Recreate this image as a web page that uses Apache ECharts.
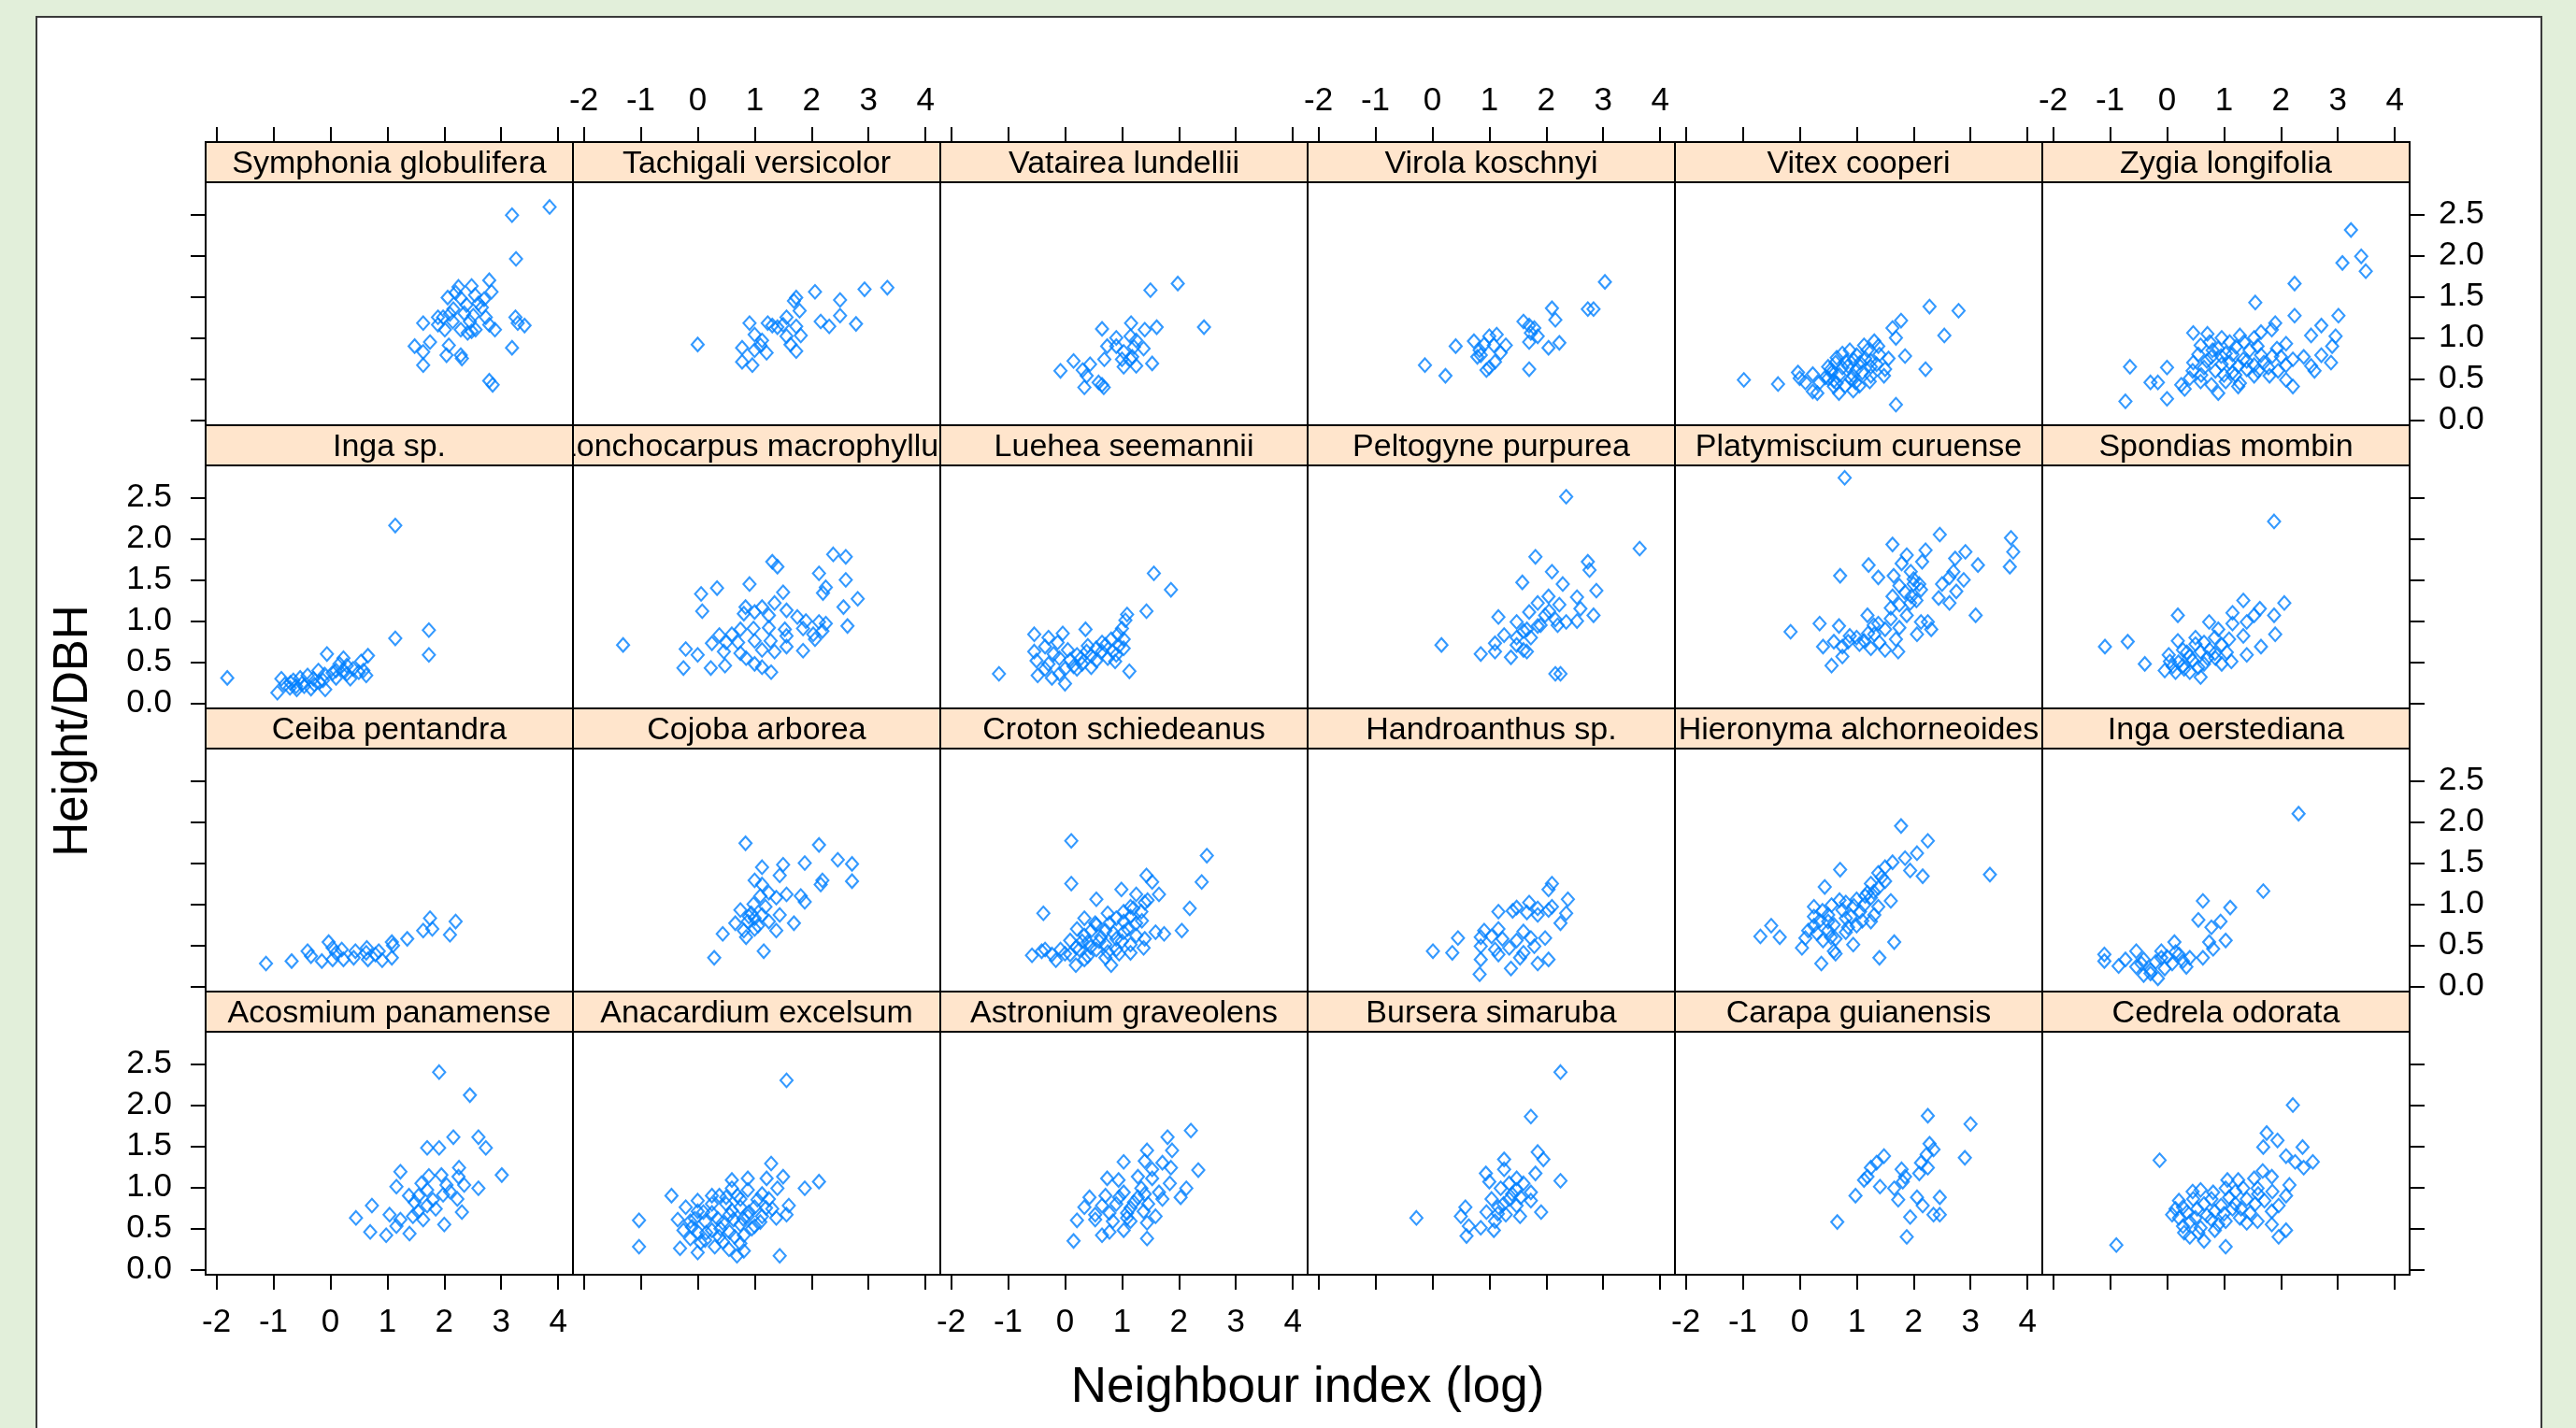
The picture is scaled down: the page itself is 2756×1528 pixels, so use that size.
<!DOCTYPE html>
<html><head><meta charset="utf-8">
<script src="https://cdn.jsdelivr.net/npm/echarts/dist/echarts.min.js"></script>
<style>html,body{margin:0;padding:0;background:#E2EFDA;}#chart{width:2756px;height:1528px;}</style>
</head><body><div id="chart"></div>
<script>
// ---------- tick labels ----------
const xTicks = [-2, -1, 0, 1, 2, 3, 4];
const yTicks = [0, 0.5, 1, 1.5, 2, 2.5];
const xTitle = 'Neighbour index (log)';
const yTitle = 'Height/DBH';

// ---------- panel names (lattice order: bottom-left first) ----------
const species = [
  'Acosmium panamense','Anacardium excelsum','Astronium graveolens','Bursera simaruba','Carapa guianensis','Cedrela odorata',
  'Ceiba pentandra','Cojoba arborea','Croton schiedeanus','Handroanthus sp.','Hieronyma alchorneoides','Inga oerstediana',
  'Inga sp.','Lonchocarpus macrophyllus','Luehea seemannii','Peltogyne purpurea','Platymiscium curuense','Spondias mombin',
  'Symphonia globulifera','Tachigali versicolor','Vatairea lundellii','Virola koschnyi','Vitex cooperi','Zygia longifolia'
];

// ---------- data: [neighbour index (log), height/DBH] ----------
const acosmium = [[1.91,2.40],[2.45,2.12],[2.16,1.61],[2.60,1.61],[2.73,1.48],[1.70,1.48],[1.91,1.48],[3.01,1.15],[1.23,1.19],[2.26,1.24],[1.73,1.14],[2.25,1.13],[2.04,1.03],[2.35,1.03],[2.60,0.99],[1.16,1.01],[1.38,0.90],[1.70,0.97],[1.98,0.91],[2.23,0.86],[1.48,0.82],[1.70,0.78],[1.54,0.71],[0.73,0.78],[1.04,0.67],[1.23,0.61],[0.45,0.63],[1.85,0.74],[2.31,0.70],[2.00,0.55],[1.16,0.53],[0.70,0.46],[0.98,0.42],[1.39,0.44],[1.63,0.61],[1.55,0.90],[1.80,0.85],[2.10,0.95],[1.60,1.05],[1.95,1.15],[1.45,0.65]];
const anacardium = [[1.56,2.30],[1.29,1.29],[2.13,1.07],[1.88,0.99],[1.50,1.13],[0.88,1.11],[0.60,1.09],[1.21,1.11],[1.40,0.99],[-0.46,0.90],[0.60,0.99],[0.88,0.97],[1.13,0.92],[0.38,0.90],[0.75,0.86],[1.25,0.86],[1.60,0.78],[0.00,0.84],[0.25,0.80],[0.50,0.80],[0.75,0.76],[1.00,0.76],[1.31,0.74],[1.56,0.67],[-0.21,0.76],[0.00,0.71],[0.25,0.69],[0.56,0.67],[0.88,0.65],[1.13,0.65],[1.38,0.63],[-1.03,0.60],[-0.35,0.61],[-0.13,0.59],[0.13,0.59],[0.44,0.57],[0.75,0.55],[1.00,0.53],[-0.25,0.48],[0.00,0.46],[0.25,0.48],[0.56,0.46],[0.81,0.42],[-0.13,0.38],[0.13,0.36],[0.44,0.34],[0.75,0.32],[-0.31,0.26],[0.00,0.21],[-1.03,0.28],[0.69,0.17],[0.81,0.23],[1.44,0.17],[0.38,0.40],[0.63,0.61],[0.10,0.70],[0.35,0.62],[0.60,0.72],[0.90,0.70],[1.05,0.85],[-0.10,0.52],[0.15,0.45],[0.40,0.50],[0.65,0.40],[0.95,0.50],[0.25,0.90],[0.50,0.88],[0.80,0.62],[1.20,0.75],[-0.05,0.62],[0.30,0.28],[0.55,0.25],[1.10,0.58],[0.70,0.90],[0.05,0.33]];
const astronium = [[2.21,1.69],[1.80,1.61],[2.34,1.21],[1.44,1.45],[1.88,1.45],[1.03,1.31],[1.40,1.32],[1.71,1.30],[1.53,1.22],[1.86,1.24],[0.74,1.11],[0.94,1.09],[1.28,1.13],[1.53,1.11],[1.84,1.05],[2.13,0.99],[0.43,0.88],[0.71,0.90],[1.03,0.94],[1.34,0.99],[1.65,0.94],[2.03,0.88],[0.34,0.76],[0.65,0.78],[0.90,0.80],[1.21,0.82],[1.46,0.80],[1.71,0.86],[0.53,0.67],[0.78,0.69],[1.09,0.69],[1.38,0.71],[1.59,0.65],[0.21,0.60],[0.53,0.61],[0.84,0.59],[1.15,0.59],[1.44,0.57],[0.78,0.46],[1.03,0.48],[0.65,0.42],[1.44,0.38],[0.15,0.35],[1.09,0.63],[1.28,0.88],[1.15,0.75],[0.95,0.88],[1.40,0.92]];
const bursera = [[2.25,2.40],[1.73,1.86],[1.85,1.43],[1.95,1.34],[1.26,1.34],[1.81,1.17],[2.25,1.08],[0.94,1.17],[1.26,1.22],[1.48,1.11],[1.00,1.07],[1.35,1.05],[1.60,1.05],[1.20,0.99],[1.48,0.97],[1.73,0.94],[1.04,0.86],[1.35,0.86],[1.73,0.84],[1.16,0.76],[1.48,0.78],[1.91,0.70],[0.58,0.76],[0.50,0.65],[0.95,0.70],[1.29,0.67],[1.54,0.65],[1.10,0.59],[0.85,0.51],[0.64,0.53],[1.08,0.48],[0.60,0.41],[-0.28,0.63],[1.25,0.80],[1.40,0.92],[1.15,0.68],[1.55,0.88]];
const carapa = [[2.25,1.87],[3.00,1.77],[2.28,1.53],[2.35,1.46],[2.90,1.36],[1.48,1.38],[2.23,1.40],[2.13,1.30],[2.25,1.24],[1.35,1.30],[1.25,1.24],[1.79,1.22],[1.19,1.13],[1.13,1.09],[1.85,1.13],[2.10,1.17],[1.81,1.07],[1.41,1.01],[1.66,0.99],[0.98,0.90],[2.06,0.88],[2.46,0.88],[1.73,0.85],[2.16,0.78],[2.35,0.67],[2.46,0.67],[1.94,0.64],[0.66,0.58],[1.88,0.40]];
const cedrela = [[2.21,2.00],[1.75,1.66],[1.94,1.57],[2.38,1.49],[1.69,1.49],[2.09,1.38],[-0.13,1.33],[2.25,1.31],[2.56,1.31],[2.40,1.24],[1.68,1.20],[1.06,1.09],[1.25,1.09],[1.53,1.11],[1.84,1.13],[2.15,1.03],[0.59,0.97],[0.81,0.94],[1.03,0.99],[1.34,0.99],[1.59,0.99],[2.09,0.90],[0.21,0.84],[0.46,0.86],[0.78,0.86],[1.09,0.88],[1.40,0.86],[1.71,0.84],[1.96,0.78],[0.28,0.76],[0.53,0.74],[0.84,0.71],[1.15,0.74],[1.46,0.69],[1.84,0.71],[0.21,0.63],[0.50,0.63],[0.78,0.61],[1.03,0.59],[1.28,0.63],[1.59,0.59],[1.84,0.55],[2.09,0.48],[0.28,0.53],[0.59,0.51],[0.84,0.48],[0.40,0.40],[0.65,0.35],[1.03,0.28],[-0.89,0.30],[1.96,0.40],[0.09,0.67],[1.40,0.57],[0.35,0.70],[0.65,0.80],[0.95,0.78],[1.20,0.80],[1.55,0.80],[0.40,0.58],[0.70,0.66],[1.00,0.68],[1.30,0.74],[0.55,0.45],[0.90,0.55],[1.60,0.92],[1.85,0.95],[0.30,0.45],[1.20,0.95],[0.15,0.74],[0.45,0.95]];
const ceiba = [[1.75,0.83],[2.20,0.79],[1.63,0.68],[1.79,0.70],[2.10,0.63],[1.35,0.58],[1.08,0.54],[1.10,0.50],[0.85,0.43],[0.64,0.47],[0.63,0.41],[0.44,0.43],[0.20,0.45],[-0.03,0.54],[0.04,0.47],[-0.40,0.43],[-0.34,0.37],[-0.15,0.31],[0.04,0.33],[0.23,0.33],[0.41,0.35],[0.66,0.33],[0.91,0.32],[1.08,0.35],[-0.68,0.31],[-1.13,0.28],[0.10,0.41],[0.79,0.39]];
const cojoba = [[0.84,1.74],[2.13,1.72],[2.46,1.54],[2.71,1.49],[1.88,1.50],[1.50,1.48],[1.13,1.45],[1.44,1.35],[1.00,1.29],[2.19,1.29],[2.71,1.28],[2.16,1.24],[1.13,1.24],[1.25,1.14],[1.56,1.12],[1.81,1.10],[1.88,1.03],[1.38,1.08],[0.98,1.00],[1.19,0.97],[0.75,0.93],[0.94,0.89],[1.13,0.87],[1.44,0.87],[1.69,0.77],[0.66,0.77],[0.88,0.79],[1.06,0.74],[0.81,0.68],[1.38,0.68],[0.44,0.64],[0.85,0.60],[1.16,0.43],[0.29,0.35],[1.25,0.79],[1.00,0.83],[1.00,0.70],[1.10,1.10],[0.90,0.85]];
const croton = [[0.11,1.77],[2.49,1.59],[2.40,1.27],[0.11,1.25],[1.43,1.35],[1.53,1.27],[0.99,1.18],[0.55,1.06],[1.25,1.12],[1.65,1.12],[2.19,0.95],[-0.38,0.89],[1.40,1.02],[1.15,0.97],[1.34,0.91],[1.03,0.91],[0.34,0.83],[0.75,0.89],[0.90,0.83],[1.15,0.85],[0.53,0.77],[0.78,0.77],[1.03,0.79],[1.25,0.77],[0.21,0.70],[0.46,0.68],[0.71,0.68],[1.03,0.66],[1.59,0.66],[1.74,0.64],[2.05,0.68],[0.34,0.62],[0.63,0.60],[0.90,0.58],[1.40,0.58],[0.09,0.56],[0.40,0.54],[0.71,0.51],[1.15,0.51],[-0.35,0.45],[-0.08,0.45],[0.25,0.45],[0.55,0.45],[0.90,0.45],[1.38,0.47],[-0.58,0.38],[-0.23,0.39],[0.09,0.39],[0.40,0.37],[0.71,0.35],[1.15,0.41],[-0.16,0.32],[0.19,0.26],[0.81,0.26],[-0.41,0.43],[0.34,0.33],[0.60,0.55],[0.85,0.65],[1.00,0.55],[0.45,0.48],[0.75,0.42],[1.10,0.70],[0.30,0.55],[0.95,0.40],[1.25,0.62],[0.55,0.75],[0.20,0.48],[1.35,0.80],[0.00,0.40],[1.20,0.95],[1.45,1.05]];
const handroanthus = [[2.10,1.25],[2.04,1.18],[2.38,1.06],[1.70,1.02],[1.48,0.96],[1.85,0.95],[2.10,0.97],[1.16,0.91],[1.41,0.92],[1.66,0.90],[2.04,0.93],[2.35,0.89],[1.85,0.87],[2.25,0.77],[0.91,0.68],[1.16,0.70],[1.60,0.67],[0.85,0.60],[1.04,0.61],[1.23,0.58],[1.48,0.56],[1.73,0.59],[1.98,0.59],[0.45,0.59],[0.85,0.49],[1.10,0.45],[1.35,0.47],[1.60,0.41],[1.79,0.49],[0.01,0.43],[0.35,0.41],[0.85,0.33],[1.16,0.39],[1.54,0.35],[2.04,0.33],[1.85,0.28],[1.38,0.22],[0.83,0.15]];
const hieronyma = [[1.78,1.95],[2.25,1.77],[2.06,1.62],[1.85,1.56],[1.63,1.51],[1.50,1.45],[1.38,1.38],[0.71,1.42],[1.94,1.41],[2.16,1.34],[3.34,1.36],[1.44,1.33],[1.25,1.25],[0.44,1.21],[1.38,1.20],[1.19,1.14],[1.25,1.08],[1.60,1.04],[1.00,1.06],[0.81,1.02],[1.38,0.97],[0.56,0.99],[0.25,0.97],[0.75,0.93],[1.06,0.91],[1.31,0.87],[0.50,0.87],[0.25,0.85],[0.81,0.83],[1.25,0.79],[0.50,0.79],[1.00,0.74],[0.25,0.74],[0.50,0.68],[0.81,0.66],[0.15,0.68],[-0.50,0.74],[-0.69,0.61],[-0.35,0.60],[0.10,0.59],[0.41,0.56],[0.94,0.51],[0.04,0.47],[0.60,0.43],[0.63,0.40],[1.66,0.54],[1.40,0.35],[0.38,0.28],[0.63,0.58],[1.13,0.99],[0.35,0.80],[0.60,0.75],[0.90,0.85],[1.10,0.80],[0.40,0.92],[0.70,1.05],[0.95,0.98],[1.15,1.10],[0.30,0.65],[0.55,0.60],[0.85,0.72],[1.30,1.15],[1.50,1.28]];
const ingaOerstediana = [[2.31,2.10],[1.69,1.16],[0.63,1.04],[1.11,0.96],[0.55,0.81],[0.94,0.79],[0.78,0.72],[1.03,0.56],[0.74,0.54],[0.81,0.46],[0.63,0.35],[0.13,0.54],[-0.54,0.43],[-0.10,0.43],[0.21,0.39],[0.40,0.35],[-1.10,0.39],[-0.73,0.33],[-0.41,0.33],[-0.10,0.35],[0.09,0.28],[0.34,0.24],[-1.10,0.31],[-0.85,0.25],[-0.54,0.24],[-0.29,0.20],[-0.04,0.22],[-0.41,0.14],[-0.16,0.10],[-0.29,0.16],[0.28,0.31],[-0.20,0.30],[0.00,0.36],[-0.45,0.28],[0.15,0.42]];
const ingaSp = [[1.14,2.16],[1.73,0.89],[1.14,0.79],[1.73,0.59],[-1.81,0.31],[-0.06,0.60],[0.23,0.55],[0.66,0.58],[0.29,0.46],[0.54,0.51],[0.58,0.40],[0.63,0.34],[-0.21,0.40],[0.04,0.37],[-0.40,0.34],[-0.53,0.31],[-0.65,0.28],[-0.86,0.30],[-0.80,0.23],[-0.93,0.13],[-0.71,0.19],[-0.46,0.21],[-0.28,0.23],[-0.13,0.28],[0.10,0.31],[0.29,0.36],[-0.09,0.17],[-0.34,0.18],[-0.59,0.17],[0.23,0.40],[0.16,0.48],[-0.70,0.25],[-0.50,0.24],[-0.30,0.30],[-0.10,0.35],[0.10,0.40],[0.40,0.42],[-0.60,0.21],[-0.20,0.26],[0.35,0.30],[0.50,0.38]];
const lonchocarpus = [[2.38,1.81],[2.60,1.78],[1.31,1.72],[1.40,1.66],[2.13,1.58],[2.60,1.50],[0.91,1.45],[0.06,1.33],[0.34,1.40],[1.50,1.35],[2.25,1.41],[2.20,1.34],[2.81,1.27],[0.08,1.12],[0.84,1.17],[1.13,1.17],[1.35,1.22],[0.81,1.09],[1.00,1.11],[1.25,1.07],[1.56,1.13],[1.75,1.05],[1.90,1.00],[2.13,0.99],[2.56,1.17],[2.25,0.97],[2.63,0.94],[0.38,0.83],[0.60,0.84],[0.75,0.90],[0.98,0.91],[1.25,0.92],[1.53,0.90],[1.85,0.91],[2.03,0.84],[2.19,0.88],[0.25,0.73],[0.50,0.74],[0.71,0.74],[1.00,0.76],[1.28,0.76],[1.56,0.82],[2.06,0.78],[-1.31,0.71],[-0.21,0.66],[0.46,0.63],[0.75,0.61],[1.13,0.65],[1.35,0.63],[1.56,0.69],[1.85,0.64],[0.85,0.55],[1.00,0.48],[1.13,0.44],[1.29,0.38],[-0.25,0.43],[0.23,0.43],[0.48,0.46],[0.00,0.59]];
const luehea = [[1.56,1.58],[1.86,1.38],[1.43,1.12],[1.09,1.08],[1.06,1.01],[1.00,0.91],[0.93,0.84],[0.81,0.78],[0.65,0.74],[0.55,0.67],[0.38,0.63],[0.21,0.59],[0.36,0.90],[-0.04,0.85],[-0.29,0.80],[-0.54,0.84],[-0.13,0.74],[-0.35,0.69],[-0.54,0.63],[-0.50,0.52],[-0.29,0.48],[-0.10,0.55],[0.09,0.53],[0.28,0.55],[0.46,0.58],[0.65,0.63],[0.84,0.63],[1.03,0.67],[0.88,0.51],[0.46,0.44],[0.21,0.42],[0.00,0.42],[-0.10,0.36],[0.00,0.24],[-0.23,0.31],[-0.48,0.34],[-1.16,0.36],[1.13,0.39],[0.71,0.71],[1.03,0.78],[0.90,0.59],[-0.20,0.60],[0.05,0.65],[0.30,0.48],[0.55,0.52],[0.75,0.55],[0.15,0.45],[-0.35,0.42],[0.40,0.70],[0.95,0.70]];
const peltogyne = [[2.35,2.51],[3.64,1.88],[1.81,1.78],[2.73,1.72],[2.76,1.62],[2.10,1.60],[1.58,1.47],[2.29,1.45],[2.88,1.37],[2.04,1.30],[2.54,1.29],[1.85,1.22],[2.23,1.20],[2.60,1.15],[1.70,1.11],[1.16,1.05],[2.83,1.07],[1.48,0.99],[1.98,1.07],[2.16,1.02],[2.35,0.99],[2.54,1.00],[1.85,0.94],[1.66,0.90],[2.20,0.95],[1.26,0.83],[1.48,0.80],[1.73,0.80],[1.10,0.73],[1.48,0.71],[1.66,0.63],[0.16,0.71],[0.85,0.60],[1.10,0.63],[1.38,0.56],[2.16,0.36],[2.25,0.36],[1.60,0.65],[1.90,0.95],[2.05,1.12],[1.60,0.88]];
const platymiscium = [[0.79,2.74],[2.46,2.05],[3.71,2.01],[1.63,1.93],[3.75,1.84],[2.21,1.86],[2.91,1.84],[1.88,1.80],[2.73,1.76],[2.15,1.72],[1.79,1.70],[1.21,1.68],[3.13,1.68],[3.69,1.66],[0.71,1.55],[1.38,1.53],[1.65,1.55],[2.00,1.51],[2.63,1.53],[2.88,1.50],[1.75,1.43],[2.13,1.38],[2.75,1.36],[1.63,1.30],[1.96,1.30],[2.44,1.28],[2.63,1.22],[1.94,1.22],[1.60,1.16],[3.09,1.07],[1.19,1.07],[1.60,1.03],[2.13,0.99],[2.25,0.99],[1.38,0.97],[0.35,0.97],[0.69,0.94],[1.75,0.92],[2.06,0.84],[-0.16,0.87],[0.88,0.82],[1.00,0.80],[1.31,0.84],[1.40,0.74],[1.69,0.78],[0.75,0.69],[0.41,0.69],[1.25,0.67],[1.50,0.65],[1.73,0.63],[0.75,0.57],[0.56,0.46],[1.13,0.76],[1.88,1.07],[2.00,1.45],[2.31,0.90],[1.85,1.35],[2.05,1.25],[2.10,1.45],[1.75,1.20],[0.85,0.75],[1.05,0.72],[1.20,0.85],[0.60,0.75],[1.50,0.90],[1.30,0.95],[2.50,1.45],[2.70,1.60],[1.95,1.60]];
const spondias = [[1.88,2.21],[2.06,1.22],[1.34,1.25],[1.63,1.15],[1.15,1.10],[1.88,1.07],[0.19,1.07],[0.74,0.99],[1.53,1.07],[1.40,0.99],[1.15,0.97],[1.90,0.84],[0.90,0.90],[0.50,0.80],[0.84,0.80],[1.09,0.78],[1.34,0.82],[0.19,0.76],[0.65,0.74],[0.96,0.71],[1.65,0.69],[-0.69,0.75],[-1.09,0.69],[0.28,0.65],[0.59,0.63],[0.84,0.61],[1.40,0.59],[0.03,0.59],[0.40,0.57],[0.71,0.55],[1.13,0.51],[-0.39,0.48],[0.05,0.51],[0.28,0.46],[0.55,0.44],[-0.04,0.40],[0.15,0.38],[0.40,0.38],[0.59,0.32],[0.96,0.48],[0.20,0.50],[0.45,0.52],[0.65,0.48],[0.35,0.62],[0.75,0.65],[0.10,0.45],[0.50,0.72],[0.85,0.55],[0.30,0.42],[1.05,0.62]];
const symphonia = [[3.85,2.59],[3.19,2.49],[3.26,1.96],[2.79,1.70],[2.25,1.62],[2.48,1.63],[2.83,1.56],[2.06,1.49],[2.29,1.48],[2.54,1.52],[2.70,1.47],[2.39,1.40],[2.16,1.35],[2.66,1.37],[2.10,1.29],[2.51,1.27],[1.98,1.25],[2.73,1.25],[1.63,1.18],[1.89,1.25],[1.89,1.16],[2.79,1.16],[3.25,1.25],[3.29,1.18],[3.41,1.15],[2.29,1.10],[2.48,1.08],[2.89,1.10],[2.41,1.06],[2.01,1.10],[1.75,0.95],[1.48,0.90],[1.63,0.83],[2.08,0.91],[2.04,0.79],[2.29,0.79],[2.31,0.75],[3.19,0.88],[1.63,0.67],[2.79,0.48],[2.85,0.43],[2.20,1.55],[2.35,1.30],[2.60,1.42],[2.45,1.20],[2.15,1.20],[2.55,1.10]];
const tachigali = [[3.33,1.61],[2.93,1.59],[2.06,1.56],[2.50,1.46],[1.73,1.49],[1.69,1.45],[1.79,1.33],[0.91,1.18],[1.23,1.18],[1.31,1.15],[1.40,1.13],[1.50,1.16],[1.56,1.25],[1.73,1.14],[1.81,1.03],[2.16,1.20],[2.31,1.14],[2.50,1.27],[2.78,1.17],[0.00,0.92],[1.00,1.04],[1.13,0.97],[0.78,0.88],[1.00,0.85],[1.21,0.82],[1.63,0.92],[1.73,0.84],[1.56,1.02],[0.78,0.71],[0.96,0.67],[1.10,0.91]];
const vatairea = [[1.98,1.66],[1.50,1.58],[2.44,1.13],[0.65,1.11],[1.16,1.18],[1.40,1.10],[1.61,1.13],[1.15,1.02],[0.90,1.00],[1.25,0.97],[0.74,0.90],[0.90,0.90],[1.21,0.89],[1.03,0.83],[1.38,0.87],[0.15,0.72],[0.69,0.74],[1.00,0.74],[1.18,0.77],[1.53,0.69],[1.03,0.65],[1.25,0.66],[-0.08,0.60],[0.31,0.61],[0.44,0.68],[0.38,0.54],[0.34,0.40],[0.59,0.46],[0.68,0.40],[0.65,0.43],[1.15,0.74]];
const virola = [[3.03,1.68],[2.10,1.36],[2.73,1.35],[2.83,1.35],[2.16,1.22],[1.60,1.20],[1.70,1.15],[1.79,1.12],[1.73,1.06],[1.85,1.02],[1.70,0.95],[2.23,0.94],[2.04,0.88],[0.73,0.96],[0.41,0.90],[1.00,1.02],[1.13,1.04],[0.91,0.92],[1.08,0.91],[1.29,0.91],[0.83,0.85],[1.20,0.82],[0.79,0.77],[1.10,0.71],[1.00,0.64],[0.95,0.61],[1.70,0.62],[-0.13,0.67],[0.23,0.54],[0.85,0.79]];
const vitex = [[2.28,1.38],[2.79,1.33],[1.78,1.21],[1.63,1.12],[1.69,1.00],[2.54,1.03],[1.31,0.96],[1.13,0.91],[1.38,0.90],[0.88,0.85],[1.19,0.85],[1.00,0.79],[0.75,0.81],[1.56,0.75],[1.85,0.78],[0.63,0.70],[0.81,0.71],[1.06,0.70],[1.25,0.72],[0.50,0.65],[0.75,0.64],[1.00,0.62],[1.25,0.65],[1.50,0.62],[2.21,0.62],[-0.03,0.58],[0.23,0.56],[0.56,0.58],[0.94,0.54],[1.25,0.54],[1.48,0.54],[-0.98,0.49],[-0.38,0.44],[0.10,0.46],[0.35,0.46],[0.65,0.45],[0.98,0.46],[1.23,0.47],[0.60,0.41],[0.23,0.35],[0.31,0.33],[0.69,0.33],[0.94,0.36],[1.69,0.19],[0.00,0.51],[0.50,0.51],[0.55,0.62],[0.70,0.55],[0.85,0.66],[0.90,0.50],[1.10,0.58],[1.15,0.75],[0.95,0.73],[0.65,0.76],[1.35,0.68],[0.45,0.52],[0.80,0.42],[1.05,0.42],[1.40,0.80],[0.60,0.48]];
const zygia = [[3.23,2.31],[3.41,1.99],[3.08,1.91],[3.49,1.81],[2.24,1.66],[1.55,1.43],[2.24,1.27],[3.01,1.27],[1.90,1.18],[2.71,1.15],[1.65,1.07],[1.84,1.10],[2.53,1.03],[2.96,1.02],[0.46,1.06],[0.71,1.05],[0.96,1.00],[1.28,1.03],[1.53,1.00],[2.09,0.93],[2.90,0.90],[0.59,0.91],[0.90,0.87],[1.21,0.89],[1.59,0.90],[1.93,0.87],[2.40,0.77],[2.71,0.79],[0.46,0.70],[0.78,0.77],[1.03,0.81],[1.34,0.74],[1.65,0.79],[2.00,0.77],[2.21,0.74],[2.53,0.66],[2.88,0.70],[0.65,0.64],[0.96,0.68],[1.25,0.66],[1.53,0.67],[1.78,0.64],[2.09,0.67],[2.59,0.60],[-0.65,0.65],[0.00,0.64],[-0.29,0.46],[-0.16,0.46],[0.25,0.43],[0.40,0.51],[0.59,0.47],[0.78,0.43],[1.03,0.47],[1.28,0.45],[1.53,0.54],[1.80,0.54],[2.09,0.49],[2.21,0.41],[0.31,0.38],[0.90,0.33],[1.25,0.41],[-0.73,0.23],[0.00,0.26],[1.15,0.58],[1.40,0.62],[0.55,0.80],[0.70,0.72],[0.85,0.60],[0.95,0.78],[1.10,0.70],[1.20,0.55],[1.40,0.72],[1.45,0.85],[1.70,0.70],[1.85,0.78],[0.60,0.55],[0.75,0.95],[1.10,0.95],[1.35,0.95],[1.60,0.60],[1.95,0.60],[0.45,0.60],[1.00,0.55],[0.80,0.85],[1.15,0.80]];

const speciesData = [acosmium, anacardium, astronium, bursera, carapa, cedrela,
  ceiba, cojoba, croton, handroanthus, hieronyma, ingaOerstediana,
  ingaSp, lonchocarpus, luehea, peltogyne, platymiscium, spondias,
  symphonia, tachigali, vatairea, virola, vitex, zygia];

// ---------- layout ----------
const FONT = '"Liberation Sans", Arial, Helvetica, sans-serif';
const PANEL_LEFT = 220, PANEL_W = 393, STRIP_TOP0 = 152, ROW_PITCH = 303, STRIP_H = 43, PANEL_H = 260;
const XMIN = -2.19, XMAX = 4.26, YMIN = -0.06, YMAX = 2.89;
const POINT_COLOR = '#0080ff';

const grids = [], xAxes = [], yAxes = [], series = [];
const graphics = [
  { type: 'rect', z: -10, shape: { x: 39, y: 18, width: 2680, height: 1600 },
    style: { fill: '#ffffff', stroke: '#3a3a3a', lineWidth: 2 } },
  { type: 'text', z: 5, x: 1399, y: 1485,
    style: { text: xTitle, font: '53px ' + FONT, fill: '#000', align: 'center', verticalAlign: 'middle', textAlign: 'center', textVerticalAlign: 'middle' } },
  { type: 'text', z: 5, x: 79, y: 782, rotation: Math.PI / 2,
    style: { text: yTitle, font: '51px ' + FONT, fill: '#000', align: 'center', verticalAlign: 'middle', textAlign: 'center', textVerticalAlign: 'middle' } }
];

species.forEach((name, k) => {
  const c = k % 6;
  const r = 3 - Math.floor(k / 6);     // screen row, 0 = top
  const sTop = STRIP_TOP0 + r * ROW_PITCH;
  const pTop = sTop + STRIP_H;
  const left = PANEL_LEFT + c * PANEL_W;

  grids.push({ left: left, top: pTop, width: PANEL_W, height: PANEL_H, show: true,
    backgroundColor: '#fff', borderColor: '#000', borderWidth: 2 });

  const xTicksOn = (r === 0 || r === 3);
  const xLabelsOn = (r === 0 && c % 2 === 1) || (r === 3 && c % 2 === 0);
  xAxes.push({
    gridIndex: k, type: 'value', min: XMIN, max: XMAX,
    position: r === 0 ? 'top' : 'bottom', offset: r === 0 ? STRIP_H : 0,
    axisLine: { show: false, onZero: false }, splitLine: { show: false },
    axisTick: { show: xTicksOn, customValues: xTicks, length: 16, inside: false, lineStyle: { color: '#000', width: 2 } },
    axisLabel: { show: xLabelsOn, customValues: xTicks, margin: r === 0 ? 26 : 34, fontSize: 35, fontFamily: FONT, color: '#000',
      formatter: v => String(v) }
  });

  const yTicksOn = (c === 0 || c === 5);
  const yLabelsOn = (c === 0 && r % 2 === 1) || (c === 5 && r % 2 === 0);
  yAxes.push({
    gridIndex: k, type: 'value', min: YMIN, max: YMAX,
    position: c === 5 ? 'right' : 'left',
    axisLine: { show: false, onZero: false }, splitLine: { show: false },
    axisTick: { show: yTicksOn, customValues: yTicks, length: 16, inside: false, lineStyle: { color: '#000', width: 2 } },
    axisLabel: { show: yLabelsOn, customValues: yTicks, margin: c === 0 ? 36 : 31, fontSize: 35, fontFamily: FONT, color: '#000',
      formatter: v => v.toFixed(1) }
  });

  series.push({
    type: 'scatter', xAxisIndex: k, yAxisIndex: k, data: speciesData[k],
    symbol: 'diamond', symbolSize: [13, 14.5], silent: true,
    itemStyle: { color: 'rgba(0,0,0,0)', borderColor: POINT_COLOR, borderWidth: 2.1 },
    emphasis: { disabled: true }
  });

  const overflowing = name === 'Lonchocarpus macrophyllus';
  graphics.push({ type: 'rect', z: overflowing ? 0 : 2,
    shape: { x: left, y: sTop, width: PANEL_W, height: STRIP_H },
    style: { fill: '#FFE5CC', stroke: '#000', lineWidth: 2 } });
  graphics.push({ type: 'text', z: overflowing ? 1 : 3, x: left + PANEL_W / 2, y: sTop + STRIP_H / 2 + 2,
    style: { text: name, font: '34px ' + FONT, fill: '#000', align: 'center', verticalAlign: 'middle', textAlign: 'center', textVerticalAlign: 'middle' } });
});

const chart = echarts.init(document.getElementById('chart'), null, { renderer: 'canvas' });
chart.setOption({
  backgroundColor: '#E2EFDA',
  animation: false,
  grid: grids, xAxis: xAxes, yAxis: yAxes, series: series,
  graphic: { elements: graphics }
});
</script>
</body></html>
